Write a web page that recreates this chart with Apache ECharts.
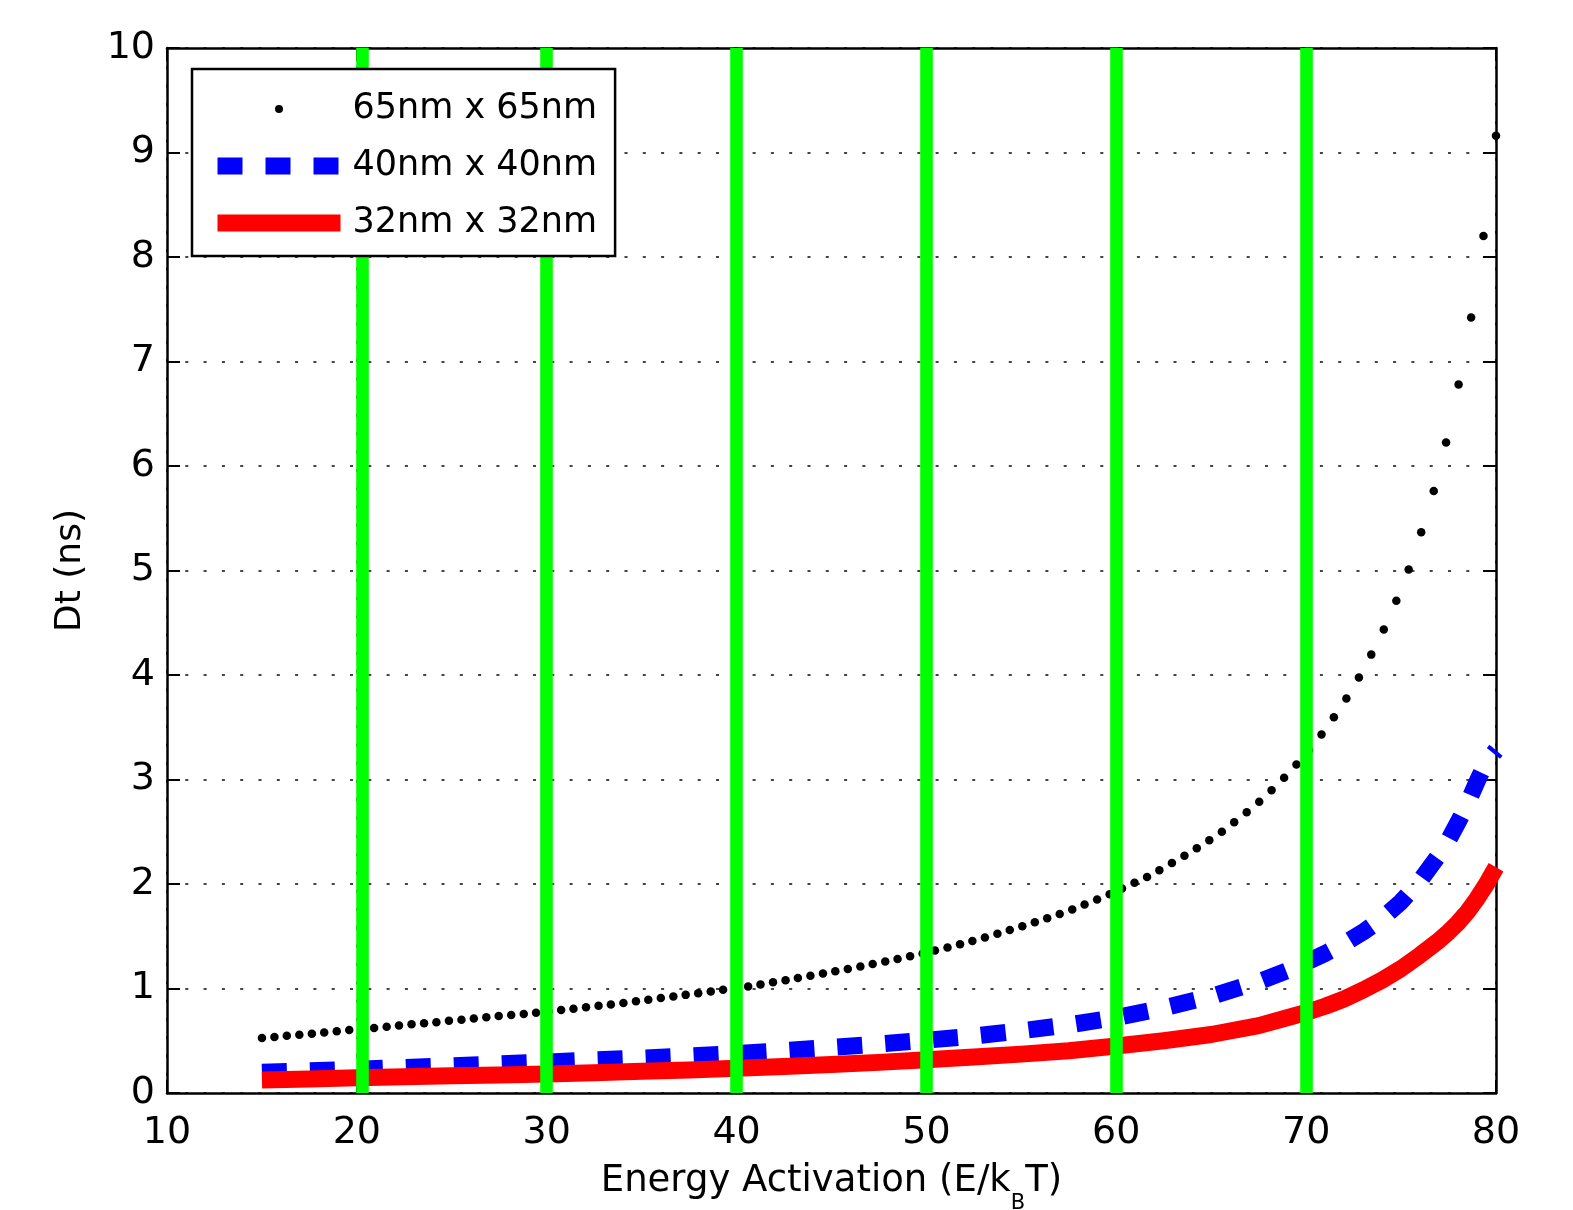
<!DOCTYPE html>
<html>
<head>
<meta charset="utf-8">
<script src="https://cdn.jsdelivr.net/npm/echarts@6/dist/echarts.min.js"></script>
<style>
  html, body { margin: 0; padding: 0; background: #fff; }
  #chart { width: 1573px; height: 1210px; }
</style>
</head>
<body>
<div id="chart"></div>
<script>
// 65nm x 65nm, sampled points (drawn as dots)
const dotsX = [15.00, 15.66, 16.31, 16.97, 17.63, 18.28, 18.94, 19.60, 20.25, 20.91,
  21.57, 22.22, 22.88, 23.54, 24.19, 24.85, 25.51, 26.16, 26.82, 27.47,
  28.13, 28.79, 29.44, 30.10, 30.76, 31.41, 32.07, 32.73, 33.38, 34.04,
  34.70, 35.35, 36.01, 36.67, 37.32, 37.98, 38.64, 39.29, 39.95, 40.61,
  41.26, 41.92, 42.58, 43.23, 43.89, 44.55, 45.20, 45.86, 46.52, 47.17,
  47.83, 48.48, 49.14, 49.80, 50.45, 51.11, 51.77, 52.42, 53.08, 53.74,
  54.39, 55.05, 55.71, 56.36, 57.02, 57.68, 58.33, 58.99, 59.65, 60.30,
  60.96, 61.62, 62.27, 62.93, 63.59, 64.24, 64.90, 65.56, 66.21, 66.87,
  67.53, 68.18, 68.84, 69.49, 70.15, 70.81, 71.46, 72.12, 72.78, 73.43,
  74.09, 74.75, 75.40, 76.06, 76.72, 77.37, 78.03, 78.69, 79.34, 80.00];
const dotsY = [0.526, 0.536, 0.547, 0.557, 0.568, 0.579, 0.590, 0.602, 0.612, 0.623,
  0.634, 0.645, 0.657, 0.667, 0.678, 0.691, 0.702, 0.714, 0.725, 0.737,
  0.747, 0.757, 0.768, 0.781, 0.794, 0.807, 0.820, 0.834, 0.848, 0.862,
  0.877, 0.893, 0.908, 0.923, 0.939, 0.955, 0.971, 0.987, 1.003, 1.019,
  1.039, 1.059, 1.079, 1.100, 1.122, 1.144, 1.165, 1.187, 1.210, 1.234,
  1.258, 1.283, 1.309, 1.336, 1.363, 1.392, 1.423, 1.455, 1.489, 1.523,
  1.559, 1.595, 1.633, 1.672, 1.714, 1.757, 1.803, 1.852, 1.902, 1.956,
  2.011, 2.068, 2.132, 2.200, 2.270, 2.342, 2.419, 2.501, 2.590, 2.686,
  2.787, 2.897, 3.017, 3.143, 3.280, 3.430, 3.595, 3.775, 3.975, 4.195,
  4.435, 4.710, 5.010, 5.365, 5.760, 6.225, 6.780, 7.420, 8.200, 9.160];

// 40nm and 32nm curves
const curveX = [15, 17.5, 20, 22.5, 25, 27.5, 30, 32.5, 35, 37.5, 40, 42.5, 45, 47.5, 50,
  52.5, 55, 57.5, 60, 62.5, 65, 67.5, 69, 70, 71, 72, 73, 74, 75, 76, 77, 77.5, 78,
  78.5, 79, 79.5, 80];
const blueY = [0.198, 0.212, 0.226, 0.244, 0.261, 0.278, 0.296, 0.316, 0.334, 0.355, 0.378,
  0.406, 0.437, 0.469, 0.505, 0.545, 0.595, 0.652, 0.722, 0.815, 0.925, 1.065, 1.17,
  1.25, 1.335, 1.43, 1.54, 1.67, 1.83, 2.03, 2.28, 2.42, 2.59, 2.77, 2.98, 3.17, 3.28];
const redY = [0.124, 0.135, 0.146, 0.155, 0.165, 0.173, 0.182, 0.194, 0.207, 0.221, 0.236,
  0.253, 0.272, 0.293, 0.318, 0.345, 0.372, 0.405, 0.45, 0.50, 0.56, 0.645, 0.72,
  0.77, 0.83, 0.90, 0.985, 1.08, 1.19, 1.32, 1.46, 1.54, 1.63, 1.735, 1.86, 2.0, 2.16];

// green vertical markers
const greenX = [20.3, 30, 40, 50, 60, 70];

const names = ['65nm x 65nm', '40nm x 40nm', '32nm x 32nm'];
const xMin = 10, xMax = 80, xStep = 10;
const yMin = 0, yMax = 10, yStep = 1;

const FONT = 'DejaVu Sans';
const BLUE = '#0000ff', RED = '#ff0000', GREEN = '#00ff00';
const blueLine = { color: BLUE, width: 17, type: [25, 23], cap: 'butt', join: 'round' };
const redLine = { color: RED, width: 17, type: 'solid', cap: 'butt', join: 'round' };

const pairs = (xs, ys) => xs.map((x, i) => [x, ys[i]]);

const frameAxis = (extra) => Object.assign({
  type: 'value',
  axisLine: { show: true, onZero: false, lineStyle: { color: '#000', width: 2.5 } },
  axisTick: { show: true, inside: true, length: 13, lineStyle: { color: '#000', width: 2 } },
  axisLabel: { show: false },
  splitLine: { show: false }
}, extra);

const gridLine = { show: true, lineStyle: { color: '#444', width: 2, type: [3, 15.3] } };

var myChart = echarts.init(document.getElementById('chart'), null, { renderer: 'canvas' });
var option = {
  animation: false,
  backgroundColor: '#fff',
  grid: { left: 167, right: 77, top: 48, bottom: 117, outerBoundsMode: 'none' },
  legend: {
    data: [
      { name: names[0] },
      { name: names[1], itemStyle: { opacity: 0 }, lineStyle: blueLine },
      { name: names[2], itemStyle: { opacity: 0 }, lineStyle: redLine }
    ],
    orient: 'vertical',
    left: 192,
    top: 69,
    itemWidth: 123,
    itemHeight: 10,
    itemGap: 17,
    padding: [20, 18, 13, 17],
    backgroundColor: '#fff',
    borderColor: '#000',
    borderWidth: 2.5,
    borderRadius: 0,
    selectedMode: false,
    z: 20,
    textStyle: { fontFamily: FONT, fontSize: 35, color: '#000', lineHeight: 40, padding: [0, 0, 0, 7] }
  },
  xAxis: [
    frameAxis({
      min: xMin, max: xMax, interval: xStep, position: 'bottom',
      axisLabel: { show: true, margin: 21, color: '#000', fontFamily: FONT, fontSize: 38, showMinLabel: true, showMaxLabel: true },
      splitLine: gridLine,
      name: '{a|Energy Activation (E/k}{b|B}{a|T)}',
      nameLocation: 'middle',
      nameGap: 68,
      nameMoveOverlap: false,
      nameTextStyle: {
        color: '#000', fontFamily: FONT, fontSize: 37,
        rich: {
          a: { fontFamily: FONT, fontSize: 37, color: '#000', lineHeight: 40 },
          b: { fontFamily: FONT, fontSize: 21, color: '#000', lineHeight: 21, padding: [46, 0, 0, 0] }
        }
      }
    }),
    frameAxis({ min: xMin, max: xMax, interval: xStep, position: 'top' })
  ],
  yAxis: [
    frameAxis({
      min: yMin, max: yMax, interval: yStep, position: 'left',
      axisLabel: { show: true, margin: 12, color: '#000', fontFamily: FONT, fontSize: 38, showMinLabel: true, showMaxLabel: true },
      splitLine: gridLine,
      name: 'Dt (ns)',
      nameLocation: 'middle',
      nameGap: 78,
      nameMoveOverlap: false,
      nameTextStyle: { color: '#000', fontFamily: FONT, fontSize: 36 }
    }),
    frameAxis({ min: yMin, max: yMax, interval: yStep, position: 'right' })
  ],
  series: [
    {
      name: names[0],
      type: 'line',
      data: pairs(dotsX, dotsY),
      symbol: 'circle',
      symbolSize: 8.5,
      showSymbol: true,
      showAllSymbol: true,
      itemStyle: { color: '#000' },
      lineStyle: { width: 0, opacity: 0 },
      z: 3
    },
    {
      name: names[1],
      type: 'line',
      data: pairs(curveX, blueY),
      symbol: 'none',
      smooth: false,
      itemStyle: { color: BLUE },
      lineStyle: blueLine,
      z: 2
    },
    {
      name: names[2],
      type: 'line',
      data: pairs(curveX, redY),
      symbol: 'none',
      smooth: false,
      itemStyle: { color: RED },
      lineStyle: redLine,
      z: 2
    },
    {
      name: 'markers',
      type: 'line',
      data: [],
      z: 5,
      markLine: {
        silent: true,
        symbol: ['none', 'none'],
        label: { show: false },
        lineStyle: { color: GREEN, width: 12.6, type: 'solid', cap: 'butt' },
        emphasis: { disabled: true },
        data: greenX.map(v => ({ xAxis: v }))
      }
    }
  ]
};
myChart.setOption(option);
</script>
</body>
</html>
